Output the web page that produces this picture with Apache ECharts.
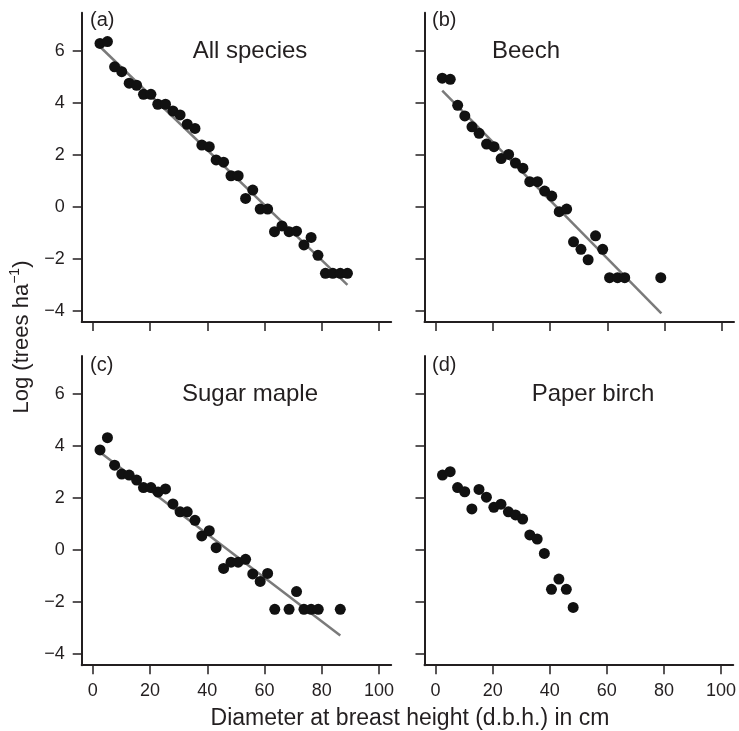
<!DOCTYPE html>
<html>
<head>
<meta charset="utf-8">
<script src="https://cdn.jsdelivr.net/npm/echarts@6/dist/echarts.min.js"></script>
<style>
html, body { margin: 0; padding: 0; background: #fff; }
#chart { width: 739px; height: 731px; }
</style>
</head>
<body>
<div id="chart"></div>
<script>
// (a) all species
var allDbh = [2.5, 5.1, 7.6, 10.1, 12.7, 15.3, 17.7, 20.3, 22.7, 25.4, 28.0, 30.5, 33.0, 35.7, 38.1, 40.7, 43.1, 45.7, 48.3, 50.8, 53.4, 55.9, 58.5, 61.1, 63.5, 66.1, 68.6, 71.2, 73.8, 76.3, 78.7, 81.3, 83.9, 86.5, 89.0];
var allLog = [6.28, 6.35, 5.38, 5.19, 4.75, 4.67, 4.32, 4.32, 3.94, 3.94, 3.68, 3.53, 3.17, 3.01, 2.37, 2.31, 1.80, 1.71, 1.19, 1.19, 0.32, 0.64, -0.09, -0.09, -0.96, -0.74, -0.96, -0.94, -1.47, -1.18, -1.87, -2.56, -2.56, -2.56, -2.56];
var allFit = [[2.5, 6.15], [89.0, -3.01]];

// (b) beech
var beechDbh = [2.3, 5.1, 7.7, 10.2, 12.7, 15.2, 17.8, 20.4, 22.9, 25.5, 27.9, 30.5, 32.9, 35.6, 38.1, 40.6, 43.2, 45.8, 48.2, 50.8, 53.3, 55.9, 58.4, 60.8, 63.6, 66.1, 78.7];
var beechLog = [4.94, 4.90, 3.90, 3.49, 3.07, 2.82, 2.41, 2.31, 1.85, 2.01, 1.68, 1.48, 0.96, 0.96, 0.60, 0.41, -0.19, -0.09, -1.35, -1.64, -2.04, -1.12, -1.64, -2.73, -2.73, -2.73, -2.73];
var beechFit = [[2.3, 4.46], [78.9, -4.10]];

// (c) sugar maple
var mapleDbh = [2.5, 5.1, 7.6, 10.1, 12.7, 15.3, 17.7, 20.3, 22.8, 25.4, 28.0, 30.5, 33.0, 35.7, 38.1, 40.7, 43.1, 45.7, 48.3, 50.8, 53.4, 55.9, 58.5, 61.1, 63.6, 68.6, 71.2, 73.8, 76.3, 78.8, 86.5];
var mapleLog = [3.85, 4.32, 3.26, 2.92, 2.88, 2.69, 2.40, 2.40, 2.23, 2.35, 1.77, 1.47, 1.47, 1.14, 0.54, 0.74, 0.09, -0.71, -0.47, -0.47, -0.36, -0.92, -1.21, -0.90, -2.28, -2.28, -1.60, -2.28, -2.28, -2.28, -2.28];
var mapleFit = [[2.5, 3.76], [86.5, -3.29]];

// (d) paper birch (no fit)
var birchDbh = [2.4, 5.1, 7.7, 10.2, 12.7, 15.2, 17.8, 20.4, 22.9, 25.5, 28.0, 30.5, 33.0, 35.6, 38.1, 40.6, 43.2, 45.8, 48.2];
var birchLog = [2.88, 3.01, 2.40, 2.24, 1.58, 2.33, 2.03, 1.64, 1.76, 1.47, 1.35, 1.19, 0.58, 0.42, -0.13, -1.51, -1.12, -1.51, -2.21];

var xTicks = [0, 20, 40, 60, 80, 100];
var yTicks = [-4, -2, 0, 2, 4, 6];
var panelLetters = ['(a)', '(b)', '(c)', '(d)'];
var panelNames = ['All species', 'Beech', 'Sugar maple', 'Paper birch'];

var FONT = '"Liberation Sans", Arial, Helvetica, sans-serif';
var INK = '#231f20';

function pairs(xs, ys) {
	var out = [];
	for (var i = 0; i < xs.length; i++) {
		out.push([xs[i], ys[i]]);
	}
	return out;
}

var grids = [
	{left: 81.7, top: 12.7, width: 309.5, height: 309.2},
	{left: 424.5, top: 12.7, width: 309.5, height: 309.2},
	{left: 81.7, top: 356, width: 309.5, height: 309.2},
	{left: 424.5, top: 356, width: 309.5, height: 309.2}
];

var xAxes = [], yAxes = [];
for (var i = 0; i < 4; i++) {
	xAxes.push({
		type: 'value', gridIndex: i, min: -3.9, max: 104.3,
		axisLine: {show: true, onZero: false, lineStyle: {color: INK, width: 2}},
		axisTick: {show: true, length: 9, customValues: xTicks, lineStyle: {color: INK, width: 1.5}},
		axisLabel: {show: i >= 2, customValues: xTicks, fontSize: 18, margin: 17, color: INK, fontFamily: FONT},
		splitLine: {show: false}
	});
	yAxes.push({
		type: 'value', gridIndex: i, min: -4.43, max: 7.46,
		axisLine: {show: true, onZero: false, lineStyle: {color: INK, width: 2}},
		axisTick: {show: true, length: 9, customValues: yTicks, lineStyle: {color: INK, width: 1.5}},
		axisLabel: {
			show: i % 2 == 0, customValues: yTicks, fontSize: 18, margin: 17, color: INK, fontFamily: FONT,
			formatter: function(v){ return String(v).replace('-', '\u2212'); }
		},
		splitLine: {show: false}
	});
}

function dots(idx, xs, ys) {
	return {
		type: 'scatter', xAxisIndex: idx, yAxisIndex: idx, data: pairs(xs, ys),
		symbol: 'circle', symbolSize: 11, itemStyle: {color: '#111', opacity: 1}, z: 3
	};
}
function fit(idx, line) {
	return {
		type: 'line', xAxisIndex: idx, yAxisIndex: idx, data: line,
		symbol: 'none', lineStyle: {color: '#7a7a7a', width: 2.5}, z: 2, silent: true
	};
}

var series = [
	fit(0, allFit), dots(0, allDbh, allLog),
	fit(1, beechFit), dots(1, beechDbh, beechLog),
	fit(2, mapleFit), dots(2, mapleDbh, mapleLog),
	dots(3, birchDbh, birchLog)
];

// panel text
var letterPos = [[90, 20], [432, 20], [90, 365], [432, 365]];
var namePos = [[250, 51], [526, 51], [250, 394], [593, 394]];
var graphics = [];
for (var i = 0; i < 4; i++) {
	graphics.push({
		type: 'text', x: letterPos[i][0], y: letterPos[i][1],
		style: {text: panelLetters[i], fontSize: 20, fontFamily: FONT, fill: INK, align: 'left', verticalAlign: 'middle'}
	});
	graphics.push({
		type: 'text', x: namePos[i][0], y: namePos[i][1],
		style: {text: panelNames[i], fontSize: 24, fontFamily: FONT, fill: INK, align: 'center', verticalAlign: 'middle'}
	});
}
graphics.push({
	type: 'text', x: 410, y: 719,
	style: {text: 'Diameter at breast height (d.b.h.) in cm', fontSize: 23, fontFamily: FONT, fill: INK, align: 'center', verticalAlign: 'middle'}
});
graphics.push({
	type: 'text', x: 22, y: 337, rotation: Math.PI / 2,
	style: {
		text: '{m|Log (trees ha}{s|\u22121}{m|)}',
		align: 'center', verticalAlign: 'middle',
		rich: {
			m: {fontSize: 22, fontFamily: FONT, fill: INK, lineHeight: 28},
			s: {fontSize: 14, fontFamily: FONT, fill: INK, verticalAlign: 'top', lineHeight: 14}
		}
	}
});

var myChart = echarts.init(document.getElementById('chart'));
myChart.setOption({
	animation: false,
	backgroundColor: '#fff',
	grid: grids,
	xAxis: xAxes,
	yAxis: yAxes,
	series: series,
	graphic: graphics
});
</script>
</body>
</html>
